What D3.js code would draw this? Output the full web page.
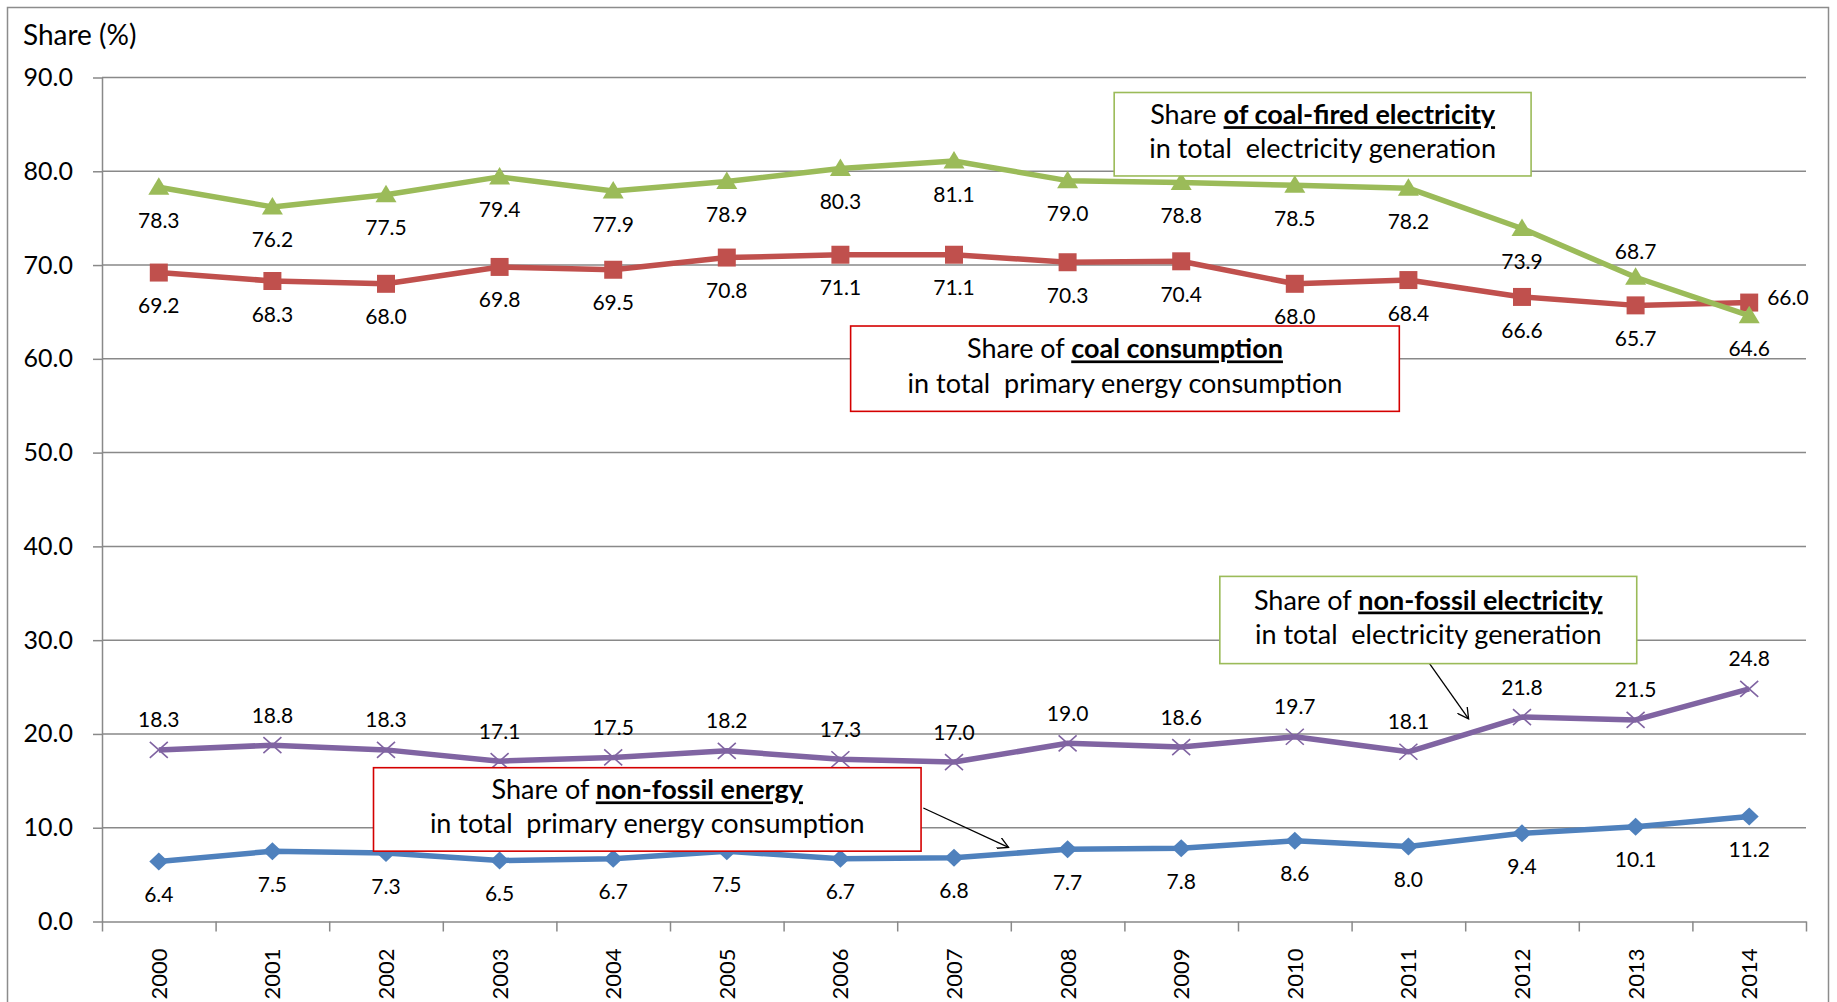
<!DOCTYPE html>
<html>
<head>
<meta charset="utf-8">
<script src="https://cdn.jsdelivr.net/npm/d3@7"></script>
<style>
  html, body { margin: 0; padding: 0; background: #fff; }
  svg { display: block; font-family: Lato, 'Open Sans', sans-serif; }
</style>
</head>
<body>
<div class="chart"></div>
<script>
'use strict';

// values
const years = ['2000', '2001', '2002', '2003', '2004', '2005', '2006', '2007',
  '2008', '2009', '2010', '2011', '2012', '2013', '2014'];
const coalElectricity = [78.3, 76.2, 77.5, 79.4, 77.9, 78.9, 80.3, 81.1, 79.0, 78.8, 78.5, 78.2, 73.9, 68.7, 64.6];
const coalConsumption = [69.2, 68.3, 68.0, 69.8, 69.5, 70.8, 71.1, 71.1, 70.3, 70.4, 68.0, 68.4, 66.6, 65.7, 66.0];
const nonFossilElectricity = [18.3, 18.8, 18.3, 17.1, 17.5, 18.2, 17.3, 17.0, 19.0, 18.6, 19.7, 18.1, 21.8, 21.5, 24.8];
const nonFossilEnergy = [6.4, 7.5, 7.3, 6.5, 6.7, 7.5, 6.7, 6.8, 7.7, 7.8, 8.6, 8.0, 9.4, 10.1, 11.2];
const yTicks = [0, 10, 20, 30, 40, 50, 60, 70, 80, 90];

const FULL_WIDTH = 1837;
const FULL_HEIGHT = 1002;
const margin = { top: 77.5, right: 31, bottom: 80.5, left: 102 };
const WIDTH = FULL_WIDTH - margin.left - margin.right;
const HEIGHT = FULL_HEIGHT - margin.top - margin.bottom;
const GRID = '#898989';

const root = d3.select('.chart')
  .append('svg')
    .attr('width', FULL_WIDTH)
    .attr('height', FULL_HEIGHT);

// outer chart frame
root.append('rect')
  .attr('x', 7.5).attr('y', 7.5)
  .attr('width', 1821).attr('height', 1010)
  .attr('fill', 'none')
  .attr('stroke', '#8c8c8c')
  .attr('stroke-width', 1.5);

root.append('text')
  .attr('x', 23).attr('y', 45)
  .attr('font-size', '28px')
  .attr('fill', '#000')
  .text('Share (%)');

const svg = root.append('g')
  .attr('transform', 'translate(' + margin.left + ',' + margin.top + ')');

const x = d3.scaleBand().domain(years).range([0, WIDTH]);
const xc = (d) => x(d) + x.bandwidth() / 2;
// fractional year index, used to place the call-out boxes
const xi = d3.scaleLinear().domain([-0.5, years.length - 0.5]).range([0, WIDTH]);
const y = d3.scaleLinear().domain([0, 90]).range([HEIGHT, 0]);

// gridlines
svg.selectAll('.grid')
  .data(yTicks.filter((t) => t > 0))
  .enter()
  .append('line')
  .attr('class', 'grid')
  .attr('x1', 0).attr('x2', WIDTH)
  .attr('y1', (d) => y(d)).attr('y2', (d) => y(d))
  .attr('stroke', GRID)
  .attr('stroke-width', 1.5);

const yAxis = svg.append('g')
  .call(d3.axisLeft(y).tickValues(yTicks).tickFormat(d3.format('.1f'))
    .tickSize(9).tickPadding(20).tickSizeOuter(0));
yAxis.selectAll('text').attr('font-size', '25px').attr('fill', '#000').attr('font-family', 'Lato');

const xAxis = svg.append('g')
  .attr('transform', 'translate(0,' + HEIGHT + ')')
  .call(d3.axisBottom(xi).tickValues(d3.range(-0.5, years.length, 1)).tickFormat('')
    .tickSize(10).tickSizeOuter(0));

[yAxis, xAxis].forEach((a) => {
  a.selectAll('path, line').attr('stroke', GRID).attr('stroke-width', 1.5);
});

svg.selectAll('.year')
  .data(years)
  .enter()
  .append('text')
  .attr('class', 'year')
  .attr('transform', (d) => 'translate(' + xc(d) + ',' + (HEIGHT + 27) + ') rotate(-90)')
  .attr('text-anchor', 'end')
  .attr('dy', '0.36em')
  .attr('font-size', '22px')
  .attr('fill', '#000')
  .text((d) => d);

// markers
const triangle = {
  draw(ctx) {
    ctx.moveTo(0, -10); ctx.lineTo(10.5, 7.5); ctx.lineTo(-10.5, 7.5); ctx.closePath();
  }
};
const square = {
  draw(ctx) { ctx.rect(-9, -9, 18, 18); }
};
const diamond = {
  draw(ctx) {
    ctx.moveTo(0, -9); ctx.lineTo(9.5, 0); ctx.lineTo(0, 9); ctx.lineTo(-9.5, 0); ctx.closePath();
  }
};
const cross = {
  draw(ctx) {
    ctx.moveTo(-9, -8); ctx.lineTo(9, 8); ctx.moveTo(-9, 8); ctx.lineTo(9, -8);
  }
};

const series = [
  { values: coalConsumption, color: '#C0504D', marker: square, filled: true, side: 'below' },
  { values: coalElectricity, color: '#9BBB59', marker: triangle, filled: true, side: 'below' },
  { values: nonFossilElectricity, color: '#8064A2', marker: cross, filled: false, side: 'above' },
  { values: nonFossilEnergy, color: '#4F81BD', marker: diamond, filled: true, side: 'below' }
];

// a few labels were moved by hand in the original
function labelOffset(s, i) {
  if (s.values === coalElectricity && i === 13) return { dx: 0, dy: -26, anchor: 'middle' };
  if (s.values === coalConsumption && i === 14) return { dx: 18, dy: -5, anchor: 'start' };
  if (s.side === 'above') return { dx: 0, dy: -30, anchor: 'middle' };
  return { dx: 0, dy: 33, anchor: 'middle' };
}

const line = d3.line()
  .x((d, i) => xc(years[i]))
  .y((d) => y(d));

series.forEach((s) => {
  const g = svg.append('g');
  g.append('path')
    .datum(s.values)
    .attr('d', line)
    .attr('fill', 'none')
    .attr('stroke', s.color)
    .attr('stroke-width', 5.5)
    .attr('stroke-linejoin', 'round');

  g.selectAll('.marker')
    .data(s.values)
    .enter()
    .append('path')
    .attr('class', 'marker')
    .attr('d', d3.symbol().type(s.marker))
    .attr('transform', (d, i) => 'translate(' + xc(years[i]) + ',' + y(d) + ')')
    .attr('fill', s.filled ? s.color : 'none')
    .attr('stroke', s.color)
    .attr('stroke-width', s.filled ? 0 : 1.6);
});

series.forEach((s) => {
  svg.selectAll(null)
    .data(s.values)
    .enter()
    .append('text')
    .attr('x', (d, i) => xc(years[i]) + labelOffset(s, i).dx)
    .attr('y', (d, i) => y(d) + labelOffset(s, i).dy)
    .attr('dy', '0.36em')
    .attr('text-anchor', (d, i) => labelOffset(s, i).anchor)
    .attr('font-size', '21px')
    .attr('fill', '#000')
    .text((d) => d3.format('.1f')(d));
});

// call-out boxes, placed in year-index / value units
const callouts = [
  { x0: 8.41, x1: 12.08, y0: 88.4, y1: 79.5, border: '#9BBB59',
    pre: 'Share ', bold: 'of coal-fired electricity', line2: 'in total  electricity generation' },
  { x0: 6.09, x1: 10.92, y0: 63.5, y1: 54.4, border: '#D40000',
    pre: 'Share of ', bold: 'coal consumption', line2: 'in total  primary energy consumption' },
  { x0: 9.34, x1: 13.01, y0: 36.8, y1: 27.5, border: '#9BBB59',
    pre: 'Share of ', bold: 'non-fossil electricity', line2: 'in total  electricity generation' },
  { x0: 1.89, x1: 6.71, y0: 16.4, y1: 7.5, border: '#D40000',
    pre: 'Share of ', bold: 'non-fossil energy', line2: 'in total  primary energy consumption' }
];

const arrows = [
  { from: [11.18, 27.6], to: [11.53, 21.6] },
  { from: [6.73, 12.1], to: [7.48, 7.9] }
];

svg.append('defs').append('marker')
    .attr('id', 'head')
    .attr('viewBox', '0 0 12 12')
    .attr('refX', 11).attr('refY', 6)
    .attr('markerWidth', 12).attr('markerHeight', 12)
    .attr('markerUnits', 'userSpaceOnUse')
    .attr('orient', 'auto')
  .append('path')
    .attr('d', 'M0,0 L11,6 L0,12')
    .attr('fill', 'none')
    .attr('stroke', '#000')
    .attr('stroke-width', 1.3);

svg.selectAll('.arrow')
  .data(arrows)
  .enter()
  .append('line')
  .attr('class', 'arrow')
  .attr('x1', (d) => xi(d.from[0])).attr('y1', (d) => y(d.from[1]))
  .attr('x2', (d) => xi(d.to[0])).attr('y2', (d) => y(d.to[1]))
  .attr('stroke', '#000')
  .attr('stroke-width', 1.3)
  .attr('marker-end', 'url(#head)');

callouts.forEach((c) => {
  const bx = xi(c.x0);
  const by = y(c.y0);
  const bw = xi(c.x1) - bx;
  const bh = y(c.y1) - by;
  const g = svg.append('g').attr('transform', 'translate(' + bx + ',' + by + ')');
  g.append('rect')
    .attr('width', bw).attr('height', bh)
    .attr('fill', '#fff')
    .attr('stroke', c.border)
    .attr('stroke-width', 1.6);
  const t1 = g.append('text')
    .attr('x', bw / 2).attr('y', bh * 0.38)
    .attr('text-anchor', 'middle')
    .attr('font-size', '27px')
    .attr('fill', '#000');
  t1.append('tspan').attr('xml:space', 'preserve').text(c.pre);
  t1.append('tspan')
    .attr('font-weight', 'bold')
    .style('text-decoration', 'underline')
    .text(c.bold);
  g.append('text')
    .attr('x', bw / 2).attr('y', bh * 0.78)
    .attr('text-anchor', 'middle')
    .attr('font-size', '27px')
    .attr('fill', '#000')
    .style('white-space', 'pre')
    .text(c.line2);
});
</script>
</body>
</html>
